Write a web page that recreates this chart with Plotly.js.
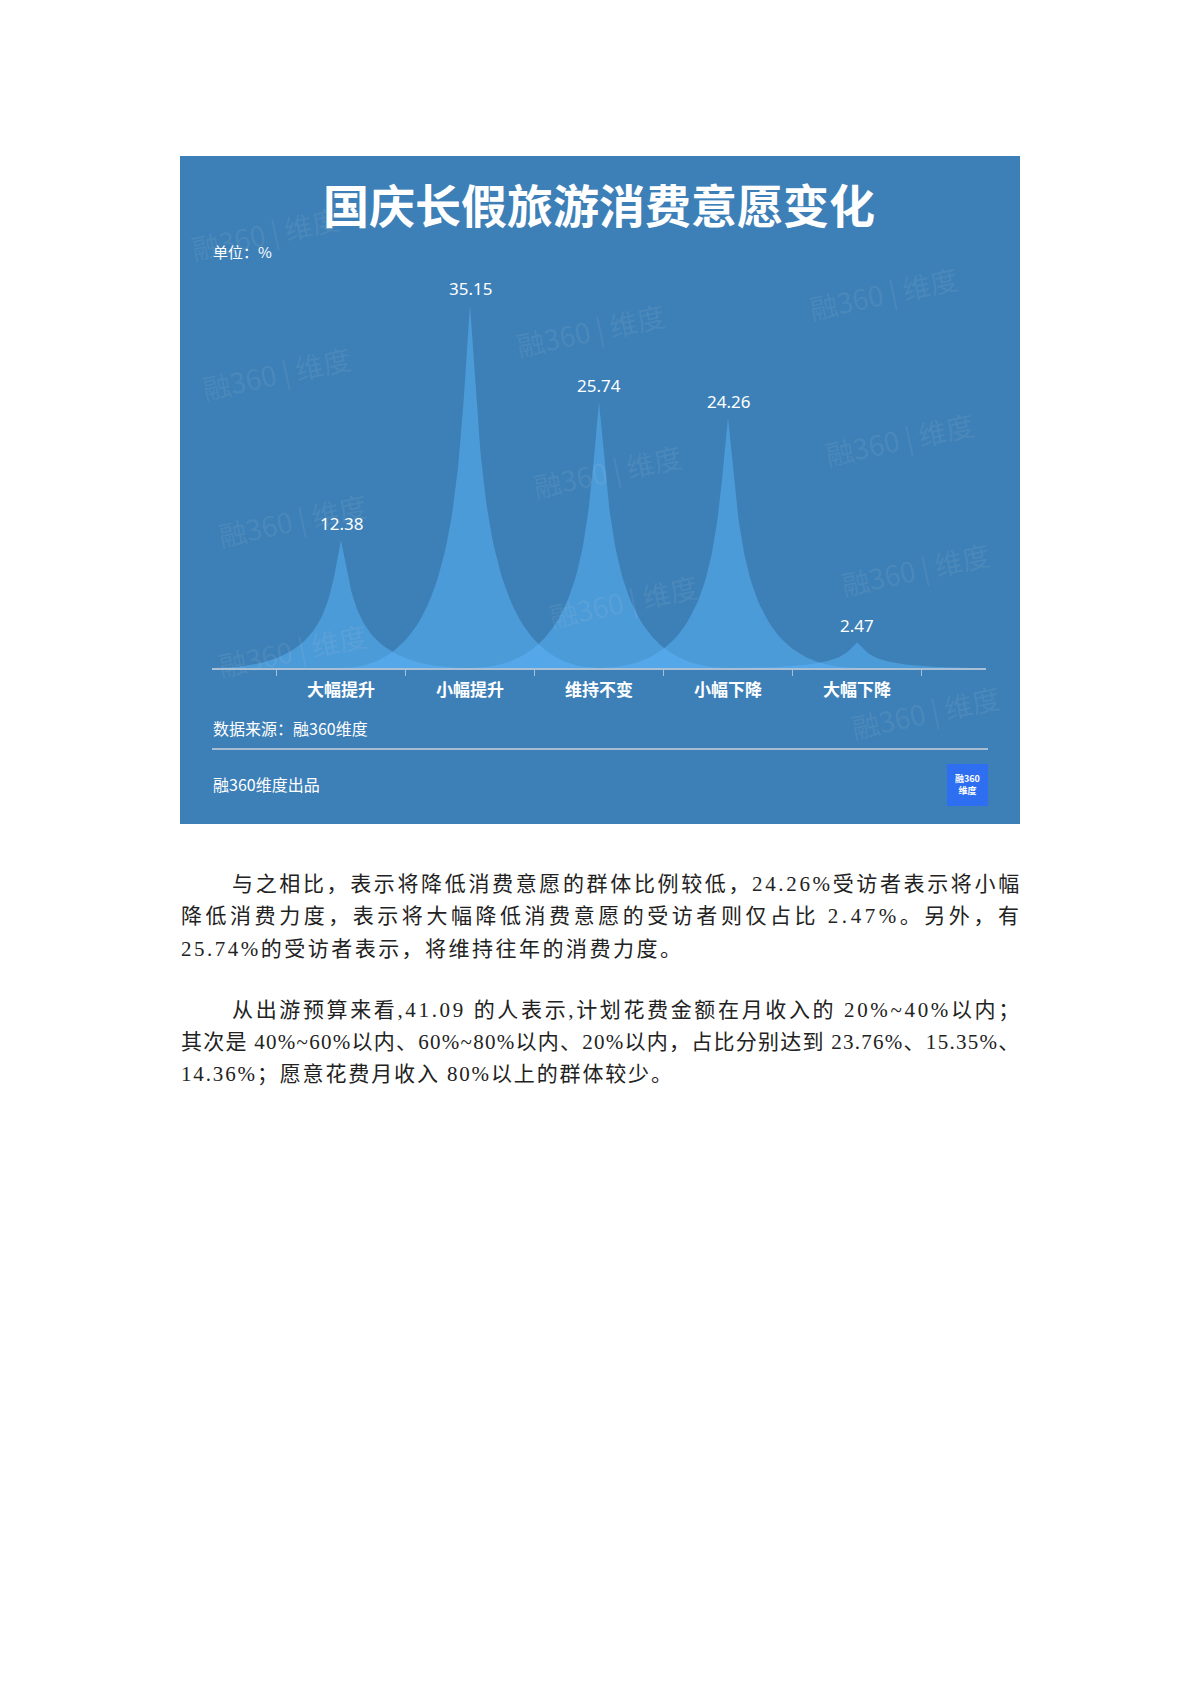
<!DOCTYPE html>
<html>
<head>
<meta charset="utf-8">
<script src="https://cdn.plot.ly/plotly-3.0.1.min.js"></script>
<style>
html,body{margin:0;padding:0;background:#ffffff;}
#chart{width:1200px;height:1698px;}
</style>
</head>
<body>
<div id="chart"></div>
<script>
// ---------- data ----------
const categories = ['大幅提升', '小幅提升', '维持不变', '小幅下降', '大幅下降'];
const values = [12.38, 35.15, 25.74, 24.26, 2.47];
const valueLabels = ['12.38', '35.15', '25.74', '24.26', '2.47'];
const chartTitle = '国庆长假旅游消费意愿变化';
const unitNote = '单位：%';
const sourceNote = '数据来源：融360维度';
const footerNote = '融360维度出品';
const watermarkText = '融360 | 维度';
const logoLines = ['融360', '维度'];
const paragraph1 = [
  '与之相比，表示将降低消费意愿的群体比例较低，24.26%受访者表示将小幅',
  '降低消费力度，表示将大幅降低消费意愿的受访者则仅占比 2.47%。另外，有',
  '25.74%的受访者表示，将维持往年的消费力度。'
];
const paragraph2 = [
  '从出游预算来看,41.09 的人表示,计划花费金额在月收入的 20%~40%以内；',
  '其次是 40%~60%以内、60%~80%以内、20%以内，占比分别达到 23.76%、15.35%、',
  '14.36%；愿意花费月收入 80%以上的群体较少。'
];

// ---------- helpers ----------
const W = 1200, H = 1698;
const px = x => x / W;
const py = y => 1 - y / H;
const CJK = '"Noto Sans CJK SC", "Noto Sans", sans-serif';
const BODY = '"Liberation Serif", "Noto Sans CJK SC", serif';

function bez(p0, p1, p2, p3, t) {
  const u = 1 - t;
  return u * u * u * p0 + 3 * u * u * t * p1 + 3 * u * t * t * p2 + t * t * t * p3;
}
function spikeOutline(xc, v) {
  const xs = [], ys = [], N = 48;
  for (let i = 0; i <= N; i++) {
    const t = i / N;
    xs.push(bez(xc - 1, xc - 0.1, xc - 0.1, xc, t));
    ys.push(bez(0, 0, v / 2, v, t));
  }
  for (let i = 1; i <= N; i++) {
    const t = i / N;
    xs.push(bez(xc, xc + 0.1, xc + 0.1, xc + 1, t));
    ys.push(bez(v, v / 2, 0, 0, t));
  }
  return {xs, ys};
}

// ---------- traces ----------
const traces = values.map((v, i) => {
  const o = spikeOutline(i, v);
  return {
    type: 'scatter', mode: 'lines', x: o.xs, y: o.ys,
    fill: 'toself', fillcolor: 'rgba(92,182,250,0.5)',
    line: {width: 0, color: 'rgba(0,0,0,0)'},
    hoverinfo: 'skip', showlegend: false
  };
});

// ---------- annotations ----------
const annotations = [];
// watermarks
const wmPos = [[265,233],[276,373],[590,330],[883,293],[607,471],[899,439],[292,520],[623,601],[915,569],[292,650],[925,712]];
wmPos.forEach(p => {
  annotations.push({
    x: px(p[0]), y: py(p[1]), xref: 'paper', yref: 'paper', text: watermarkText,
    showarrow: false, textangle: -12, xanchor: 'center', yanchor: 'middle',
    font: {family: CJK, size: 28, color: 'rgba(215,215,215,0.10)'}
  });
});
// value labels
values.forEach((v, i) => {
  annotations.push({
    x: i, y: v, xref: 'x', yref: 'y', text: valueLabels[i], showarrow: false,
    xanchor: 'center', yanchor: 'bottom', yshift: 3,
    font: {family: '"Noto Sans", sans-serif', size: 17, color: '#ffffff'}
  });
});
// title & notes
annotations.push({x: px(599), y: py(203), xref: 'paper', yref: 'paper', text: chartTitle, showarrow: false,
  xanchor: 'center', yanchor: 'middle', font: {family: CJK, size: 46, color: '#ffffff', weight: 'bold'}});
annotations.push({x: px(211), y: py(252), xref: 'paper', yref: 'paper', text: unitNote, showarrow: false,
  xanchor: 'left', yanchor: 'middle', font: {family: CJK, size: 15, color: '#ffffff'}});
annotations.push({x: px(211), y: py(728), xref: 'paper', yref: 'paper', text: sourceNote, showarrow: false,
  xanchor: 'left', yanchor: 'middle', font: {family: CJK, size: 16, color: '#ffffff'}});
annotations.push({x: px(211), y: py(784), xref: 'paper', yref: 'paper', text: footerNote, showarrow: false,
  xanchor: 'left', yanchor: 'middle', font: {family: CJK, size: 16, color: '#ffffff'}});
annotations.push({x: px(967.5), y: py(785), xref: 'paper', yref: 'paper', text: logoLines.join('<br>'), showarrow: false,
  xanchor: 'center', yanchor: 'middle', font: {family: CJK, size: 9, color: '#ffffff', weight: 'bold'}});

// body paragraphs, justified using canvas measurement
const BODY_SIZE = 21;
const cv = document.createElement('canvas').getContext('2d');
cv.font = BODY_SIZE + 'px "Liberation Serif", "Noto Sans CJK SC"';
const bodyLines = [
  {text: paragraph1[0], x0: 231, x1: 1018, y: 884},
  {text: paragraph1[1], x0: 180, x1: 1018, y: 916},
  {text: paragraph1[2], x0: 180, x1: 680, y: 949},
  {text: paragraph2[0], x0: 231, x1: 1018, y: 1010},
  {text: paragraph2[1], x0: 180, x1: 1018, y: 1042},
  {text: paragraph2[2], x0: 180, x1: 671, y: 1074}
];
bodyLines.forEach(l => {
  const n = Array.from(l.text).length;
  const w = cv.measureText(l.text).width;
  const ls = Math.max(0, (l.x1 - l.x0 - w) / (n - 1));
  annotations.push({
    x: px(l.x0), y: py(l.y), xref: 'paper', yref: 'paper',
    text: '<span style="letter-spacing:' + ls.toFixed(2) + 'px">' + l.text + '</span>',
    showarrow: false, xanchor: 'left', yanchor: 'middle', borderpad: 0,
    font: {family: BODY, size: BODY_SIZE, color: '#222222'}
  });
});

// ---------- shapes ----------
const shapes = [
  {type: 'rect', xref: 'paper', yref: 'paper', x0: px(180), x1: px(1020), y0: py(824), y1: py(156),
   fillcolor: '#3d80b8', line: {width: 0}, layer: 'below'},
  {type: 'line', xref: 'paper', yref: 'paper', x0: px(212), x1: px(988), y0: py(749), y1: py(749),
   line: {color: '#a7bdd3', width: 2}, layer: 'below'},
  {type: 'rect', xref: 'paper', yref: 'paper', x0: px(947), x1: px(988), y0: py(806), y1: py(764),
   fillcolor: '#2e6ff1', line: {width: 0}, layer: 'below'}
];

const layout = {
  width: W, height: H,
  margin: {l: 0, r: 0, t: 0, b: 0},
  paper_bgcolor: '#ffffff', plot_bgcolor: 'rgba(0,0,0,0)',
  showlegend: false,
  xaxis: {
    domain: [px(212), px(986)], range: [-1, 5], fixedrange: true,
    showgrid: false, zeroline: false,
    showline: true, linecolor: '#a9bfd6', linewidth: 2,
    tickmode: 'array', tickvals: categories.map((c, i) => i), ticktext: categories,
    ticks: '', ticklabelstandoff: 6,
    tickfont: {family: CJK, size: 17, color: '#ffffff', weight: 'bold'},
    minor: {tickmode: 'array', tickvals: [-0.5, 0.5, 1.5, 2.5, 3.5, 4.5], ticks: 'outside',
            ticklen: 6, tickwidth: 1.5, tickcolor: '#a9bfd6', showgrid: false}
  },
  yaxis: {
    domain: [py(668), py(255)], range: [0, 40], fixedrange: true,
    visible: false, showgrid: false, zeroline: false
  },
  shapes: shapes,
  annotations: annotations
};

Plotly.newPlot('chart', traces, layout, {displayModeBar: false, staticPlot: true});
</script>
</body>
</html>
